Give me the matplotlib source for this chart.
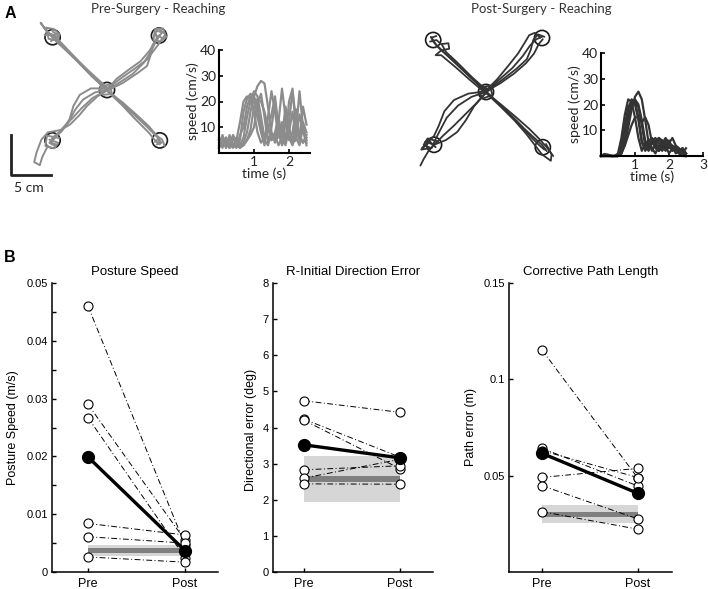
import numpy as np
import matplotlib
matplotlib.use("Agg")
import matplotlib.pyplot as plt
from matplotlib.patches import Circle

# ---- panel A: hand trajectories (cm, relative to centre target) ----
pre_tl = [[(0, 0), (-1.5, 1.4), (-3.5, 3.4), (-5.5, 5.3), (-6.6, 6.4), (-7.4, 7.2), (-6.9, 6.9), (-6.3, 6.7)],
          [(0.2, -0.2), (-2, 1.8), (-4, 3.9), (-6, 5.9), (-7.6, 7.4), (-8.3, 8.4), (-7.2, 7.0), (-6.4, 6.2)],
          [(-0.3, 0.2), (-2.5, 2.5), (-4.5, 4.6), (-6.2, 6.4), (-7.0, 7.0), (-7.8, 6.9), (-6.5, 6.9)],
          [(0, 0.3), (-2.2, 2.3), (-4.8, 4.8), (-6.4, 6.1), (-6.0, 6.8), (-6.8, 7.3)],
          [(-6.2, 6.2), (-7.3, 6.4), (-7.6, 7.8), (-6.6, 7.6), (-5.9, 6.9), (-7.0, 6.1)]]
pre_tr = [[(0, 0), (1.5, 0.9), (3.2, 2.0), (4.6, 3.4), (5.6, 5.0), (6.2, 6.3), (6.9, 7.2), (6.2, 7.4), (5.9, 6.7)],
          [(0, 0.2), (1.8, 1.5), (3.5, 2.7), (5.0, 3.8), (5.9, 5.0), (6.8, 6.2), (7.3, 7.0), (6.6, 7.5)],
          [(0.2, 0), (2.0, 0.9), (3.8, 2.1), (5.0, 3.0), (5.4, 4.2), (5.7, 5.6), (6.4, 6.8), (7.0, 6.4)],
          [(0, 0), (1.2, 1.4), (2.8, 2.6), (4.2, 3.6), (5.3, 4.9), (6.0, 6.0), (6.6, 6.9)],
          [(5.8, 6.2), (6.0, 7.6), (7.0, 7.7), (7.4, 6.6), (6.4, 6.0), (6.1, 7.0)]]
pre_br = [[(0, 0), (1.5, -1.4), (3.3, -3.0), (5.0, -4.6), (6.3, -5.9), (6.8, -6.6), (6.2, -6.8)],
          [(0.2, -0.2), (2.0, -1.6), (3.8, -3.2), (5.3, -4.6), (6.0, -5.6), (6.9, -6.2), (7.2, -7.0)],
          [(0, -0.1), (1.8, -1.8), (3.5, -3.6), (5.2, -5.3), (6.0, -6.3), (6.6, -6.8), (6.4, -6.0)],
          [(-0.1, 0.1), (2.2, -2.0), (4.2, -3.7), (5.6, -5.0), (6.5, -6.0), (6.0, -6.5)]]
pre_bl = [[(0, 0), (-1.5, -0.3), (-3.0, -1.2), (-4.0, -2.5), (-4.8, -4.0), (-5.7, -5.2), (-6.6, -6.0), (-7.2, -6.6), (-6.5, -7.0)],
          [(0, 0.2), (-2.0, 0.2), (-3.4, -0.6), (-4.2, -2.0), (-4.7, -3.7), (-5.6, -5.0), (-6.4, -5.6), (-6.9, -6.1)],
          [(0.1, 0), (-1.2, -0.8), (-2.5, -2.0), (-3.5, -3.2), (-4.6, -4.3), (-5.8, -5.0), (-7.4, -5.3), (-8.2, -6.2),
           (-8.8, -7.8), (-9.1, -9.0), (-8.4, -9.4), (-8.1, -8.4), (-7.4, -7.0)],
          [(0, 0), (-1.8, -1.0), (-3.2, -2.3), (-4.3, -3.5), (-5.4, -4.6), (-6.4, -5.8), (-7.0, -6.6), (-6.4, -6.8)],
          [(-6.0, -6.0), (-7.5, -5.7), (-7.7, -7.0), (-6.6, -7.3), (-6.1, -6.6), (-7.2, -6.2)]]
pre_c = [[(-0.8, 0.4), (0.4, 0.7), (0.6, -0.5), (-0.5, -0.6), (-0.9, 0.1), (0.3, 0.3)]]

post_tl = [[(0, 0), (-1.7, 1.6), (-3.5, 3.3), (-5.2, 4.9), (-6.3, 6.0), (-6.8, 6.8), (-6.2, 7.0)],
           [(0.2, 0.1), (-1.8, 1.9), (-3.6, 3.7), (-5.0, 5.0), (-5.5, 5.9), (-6.2, 6.5), (-7.0, 6.3)],
           [(0, -0.2), (-2.0, 1.5), (-3.8, 3.1), (-5.6, 4.6), (-6.3, 4.6), (-5.6, 5.2), (-4.6, 5.4), (-4.7, 6.1), (-5.5, 6.0)],
           [(-0.2, 0.2), (-2.2, 2.1), (-4.2, 4.0), (-5.9, 5.5), (-6.6, 6.3), (-6.9, 6.9)]]
post_tr = [[(0, 0), (1.6, 1.5), (3.3, 3.0), (4.6, 4.5), (5.5, 5.8), (6.3, 6.6), (7.0, 6.9)],
           [(0.1, 0.1), (2.0, 1.5), (3.8, 2.9), (5.1, 4.1), (5.6, 5.3), (5.9, 6.5), (6.5, 7.2), (7.3, 6.9)],
           [(0, 0.2), (1.4, 1.6), (2.8, 3.3), (4.0, 4.8), (4.8, 6.1), (5.4, 7.1), (6.1, 7.4), (6.8, 6.8)],
           [(-0.1, 0), (1.8, 1.1), (3.5, 2.3), (5.0, 3.6), (6.0, 4.8), (6.6, 6.0), (7.1, 6.6)]]
post_br = [[(0, 0), (1.6, -1.5), (3.2, -3.0), (4.8, -4.6), (6.0, -5.7), (7.0, -6.6), (7.6, -7.4)],
           [(0.1, -0.2), (1.9, -1.9), (3.6, -3.6), (5.0, -5.2), (6.0, -6.5), (7.0, -7.8), (8.1, -8.6), (8.2, -7.8), (7.5, -6.5)],
           [(-0.1, 0), (1.8, -1.5), (3.7, -3.1), (5.4, -4.6), (6.6, -5.8), (7.5, -6.8), (8.4, -8.0)],
           [(0, 0.1), (2.0, -1.8), (4.0, -3.8), (5.6, -5.6), (6.6, -6.6), (7.3, -7.2)]]
post_bl = [[(0, 0), (-1.8, -0.6), (-3.5, -1.7), (-4.9, -3.2), (-5.8, -4.9), (-6.4, -6.1), (-6.8, -7.0)],
           [(0, -0.1), (-1.5, -1.8), (-2.5, -3.5), (-3.6, -5.0), (-5.0, -6.0), (-6.5, -6.6), (-7.6, -6.2)],
           [(0.1, 0.1), (-2.2, -0.2), (-4.0, -1.0), (-5.2, -2.4), (-5.9, -4.2), (-6.5, -5.5), (-7.4, -6.4), (-8.0, -7.0)],
           [(0, 0), (-1.2, -1.4), (-2.6, -2.8), (-4.0, -4.2), (-5.3, -5.4), (-6.3, -6.4), (-7.2, -7.4), (-7.8, -8.4), (-8.2, -9.2)],
           [(-6.0, -6.2), (-7.3, -5.8), (-7.8, -6.6), (-6.9, -7.0), (-8.1, -7.2), (-7.0, -6.2), (-6.3, -6.9)]]
post_c = [[(-0.8, 0.5), (0.5, 0.8), (0.8, -0.4), (-0.4, -0.8), (-0.9, 0.0), (0.4, 0.2), (-0.2, 0.6)]]

pre_targets = [(-6.8, 6.6), (6.5, 6.8), (6.6, -6.3), (-6.8, -6.3), (0, 0)]
post_targets = [(-6.6, 6.5), (7.0, 6.75), (7.1, -6.9), (-6.5, -6.6), (0, 0)]

# ---- panel A: speed profiles ----
speed_t = [0.0, 0.1, 0.2, 0.3, 0.4, 0.5, 0.6, 0.7, 0.8, 0.9, 1.0, 1.1, 1.2,
           1.3, 1.4, 1.5, 1.6, 1.7, 1.8, 1.9, 2.0, 2.1, 2.2, 2.3, 2.4, 2.5]
pre_speed = [
    [3, 7, 2, 6, 3, 5, 12, 20, 22, 21, 16, 8, 4, 6, 10, 5, 8, 14, 6, 3, 9, 5, 12, 7, 4, 6],
    [5, 2, 6, 3, 7, 4, 5, 16, 21, 23, 22, 18, 10, 5, 3, 8, 4, 7, 12, 5, 8, 16, 6, 3, 10, 5],
    [2, 5, 3, 6, 2, 4, 3, 6, 14, 20, 24, 22, 14, 6, 9, 15, 22, 10, 4, 12, 6, 3, 8, 24, 10, 4],
    [6, 3, 5, 2, 6, 3, 2, 4, 8, 16, 22, 26, 28, 27, 18, 8, 5, 12, 25, 14, 5, 8, 17, 6, 12, 8],
    [4, 6, 2, 7, 3, 2, 7, 10, 18, 22, 20, 14, 8, 3, 14, 24, 16, 6, 10, 4, 20, 25, 9, 5, 18, 11],
    [2, 4, 6, 3, 5, 6, 2, 3, 5, 9, 18, 21, 20, 16, 10, 5, 7, 3, 6, 18, 10, 4, 5, 15, 9, 3],
    [5, 3, 4, 2, 3, 5, 4, 3, 5, 7, 10, 19, 23, 14, 4, 10, 20, 8, 3, 6, 12, 24, 13, 6, 4, 7],
]
post_speed = [
    [0, 0.8, 0.5, 0, 0, 1, 7, 16, 22, 21, 15, 7, 2, 5, 6, 3, 1, 4, 6, 4, 1, 3, 2, 1, 2, 1],
    [0, 0, 0.5, 0, 0, 0, 4, 12, 19, 21, 20, 14, 5, 3, 6, 7, 3, 2, 5, 7, 5, 2, 4, 3, 1, 3],
    [0, 0, 0, 0, 0, 0, 2, 8, 15, 20, 21, 19, 12, 4, 2, 5, 6, 2, 3, 6, 5, 2, 3, 1, 3, 0],
    [0, 0, 0, 0, 0, 0, 1, 5, 11, 18, 23, 25, 22, 14, 5, 2, 5, 7, 4, 2, 5, 4, 1, 2, 3, 1],
    [0, 0, 0, 0, 0, 0, 1, 4, 8, 12, 15, 15, 13, 15, 12, 5, 4, 7, 6, 3, 5, 7, 4, 2, 3, 1],
    [0, 0.5, 0, 0, 0, 0, 3, 10, 18, 22, 21, 15, 6, 2, 4, 6, 4, 2, 4, 5, 3, 4, 3, 1, 0, 0],
    [0, 0, 0, 0, 0, 0, 1, 6, 14, 19, 22, 20, 14, 6, 3, 6, 7, 5, 2, 4, 6, 3, 3, 2, 1, 0],
]

# ---- panel B ----
conds = ["Pre", "Post"]
speed_pre = [0.046, 0.029, 0.0267, 0.0084, 0.0061, 0.0026]
speed_post = [0.0047, 0.0055, 0.0025, 0.0064, 0.0050, 0.0017]
speed_mean = [0.0199, 0.0037]
speed_band = [0.0028, 0.0047]
speed_band_dark = [0.0033, 0.0041]

dir_pre = [4.74, 4.23, 4.20, 2.83, 2.60, 2.44]
dir_post = [4.42, 3.18, 2.86, 2.94, 3.12, 2.43]
dir_mean = [3.52, 3.16]
dir_band = [1.95, 3.21]
dir_band_dark = [2.50, 2.65]

path_pre = [0.1152, 0.0642, 0.063, 0.0491, 0.0448, 0.0313]
path_post = [0.0486, 0.0446, 0.0490, 0.0538, 0.0275, 0.0222]
path_mean = [0.0616, 0.0408]
path_band = [0.0253, 0.0348]
path_band_dark = [0.0287, 0.0313]

W, H = 708, 589
fig = plt.figure(figsize=(W / 100, H / 100), dpi=100)


def add_ax(x0, y0, x1, y1):
    return fig.add_axes([x0 / W, 1 - y1 / H, (x1 - x0) / W, (y1 - y0) / H])


def draw_reaches(ax, groups, targets, color, lw):
    for tx, ty in targets:
        ax.add_patch(Circle((tx, ty), 0.95, fill=False, ec="#1a1a1a", lw=1.2, zorder=1))
    for g in groups:
        for p in g:
            xy = np.array(p)
            ax.plot(xy[:, 0], xy[:, 1], color=color, lw=lw,
                    solid_joinstyle="round", solid_capstyle="round", zorder=2)
    ax.axis("off")


def speed_axes(ax, traces, color, xmax, xt):
    for s in traces:
        ax.plot(speed_t, s, color=color, lw=1.6, solid_joinstyle="round", clip_on=False)
    ax.set_xlim(0, xmax)
    ax.set_ylim(0, 40)
    ax.set_xticks(xt)
    ax.set_yticks([10, 20, 30, 40])
    for side in ["top", "right"]:
        ax.spines[side].set_visible(False)
    for side in ["left", "bottom"]:
        ax.spines[side].set_linewidth(1.5)
    ax.tick_params(direction="in", length=3, width=1.2, labelsize=10, pad=2)
    for lab in ax.get_xticklabels() + ax.get_yticklabels():
        lab.set_family("Lato")
        lab.set_color("#222222")
    ax.set_xlabel("time (s)", fontsize=10, family="Lato", labelpad=0, color="#222222")
    ax.set_ylabel("speed (cm/s)", fontsize=10, family="Lato", labelpad=1, color="#222222")


# pre-surgery
ax = add_ax(0, 15, 190, 195)
ax.set_xlim(-107 / 8, 83 / 8)
ax.set_ylim(-105 / 8, 75 / 8)
draw_reaches(ax, [pre_tl, pre_tr, pre_br, pre_bl, pre_c], pre_targets, "#8c8c8c", 1.4)
ax.plot([-12.0, -12.0, -7.0], [-5.6, -10.6, -10.6], color="#222222", lw=2, clip_on=False)
ax.text(-11.6, -12.3, "5 cm", family="Lato", fontsize=10, color="#222222", ha="left", va="center")

ax = add_ax(219, 50, 310, 153)
speed_axes(ax, pre_speed, "#8c8c8c", 2.6, [1, 2])

# post-surgery
ax = add_ax(400, 15, 580, 185)
ax.set_xlim(-86 / 8, 94 / 8)
ax.set_ylim(-93 / 8, 77 / 8)
draw_reaches(ax, [post_tl, post_tr, post_br, post_bl, post_c], post_targets, "#333333", 1.3)

ax = add_ax(601, 53, 703, 156)
speed_axes(ax, post_speed, "#333333", 3, [1, 2, 3])

fig.text(158 / W, 1 - 9 / H, "Pre-Surgery - Reaching", family="Lato", fontsize=9.5,
         color="#333333", ha="center", va="center")
fig.text(541 / W, 1 - 9 / H, "Post-Surgery - Reaching", family="Lato", fontsize=9.5,
         color="#333333", ha="center", va="center")
fig.text(10 / W, 1 - 14 / H, "A", fontsize=11.5, weight="bold", family="Liberation Sans",
         ha="center", va="center")
fig.text(10 / W, 1 - 258 / H, "B", fontsize=11.5, weight="bold", family="Liberation Sans",
         ha="center", va="center")


def panel_b(ax, pre, post, mean, band, band_dark, title, ylabel, xlim, ylim):
    xs = [1, 2]
    ax.fill_between(xs, band[0], band[1], color="#d6d6d6", lw=0, zorder=1)
    ax.fill_between(xs, band_dark[0], band_dark[1], color="#7f7f7f", lw=0, zorder=2)
    for a, b in zip(pre, post):
        ax.plot(xs, [a, b], color="black", lw=0.7, dashes=(6, 2.5, 1, 2.5), zorder=3)
    for a, b in zip(pre, post):
        ax.plot(xs, [a, b], ls="none", marker="o", ms=6.5, mfc="white", mec="black",
                mew=0.8, zorder=4)
    ax.plot(xs, mean, color="black", lw=2.4, marker="o", ms=8.5, zorder=5)
    ax.set_xlim(*xlim)
    ax.set_ylim(*ylim)
    ax.set_xticks(xs)
    ax.set_xticklabels(conds)
    for side in ["top", "right"]:
        ax.spines[side].set_visible(False)
    for side in ["left", "bottom"]:
        ax.spines[side].set_linewidth(1.1)
    ax.tick_params(direction="in", length=3, width=1, labelsize=8, pad=3)
    ax.tick_params(axis="x", labelsize=9, pad=4)
    ax.tick_params(which="minor", direction="in", length=3, width=1)
    ax.set_title(title, fontsize=9.5, pad=6)
    ax.set_ylabel(ylabel, fontsize=9)


plt.rcParams["font.family"] = ["Liberation Sans", "DejaVu Sans"]

ax1 = add_ax(52, 283, 218, 572)
panel_b(ax1, speed_pre, speed_post, speed_mean, speed_band, speed_band_dark,
        "Posture Speed", "Posture Speed (m/s)", (0.629, 2.34), (0, 0.05))
ax1.set_yticks([0, 0.01, 0.02, 0.03, 0.04, 0.05])
ax1.set_yticklabels(["0", "0.01", "0.02", "0.03", "0.04", "0.05"])
ax1.set_yticks([0.005, 0.015, 0.025, 0.035, 0.045], minor=True)
ax1.yaxis.set_label_coords(-0.2, 0.5)

ax2 = add_ax(273, 283, 433, 572)
panel_b(ax2, dir_pre, dir_post, dir_mean, dir_band, dir_band_dark,
        "R-Initial Direction Error", "Directional error (deg)", (0.677, 2.344), (0, 8))
ax2.set_yticks([0, 1, 2, 3, 4, 5, 6, 7, 8])
ax2.yaxis.set_label_coords(-0.1, 0.49)

ax3 = add_ax(509, 283, 672, 572)
panel_b(ax3, path_pre, path_post, path_mean, path_band, path_band_dark,
        "Corrective Path Length", "Path error (m)", (0.656, 2.354), (0, 0.15))
ax3.set_yticks([0.05, 0.1, 0.15])
ax3.set_yticklabels(["0.05", "0.1", "0.15"])
ax3.yaxis.set_label_coords(-0.196, 0.5)

fig.savefig("out.png", dpi=100)
